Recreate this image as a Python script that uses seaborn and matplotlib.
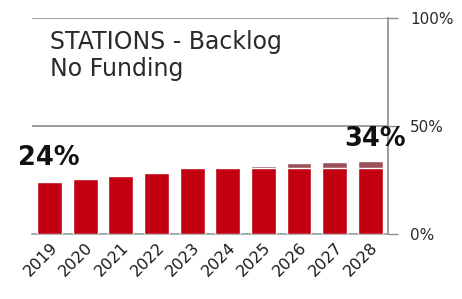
import numpy as np
import pandas as pd
import matplotlib
matplotlib.use("Agg")
import matplotlib.pyplot as plt
import seaborn as sns

# values (percent of stations in backlog)
years = ["2019", "2020", "2021", "2022", "2023", "2024", "2025", "2026", "2027", "2028"]
backlog_total = [24.0, 25.5, 26.7, 28.5, 30.4, 30.4, 31.5, 32.7, 33.5, 34.0]
backlog_base = [24.0, 25.5, 26.7, 28.5, 30.4, 30.4, 30.4, 30.6, 30.8, 30.8]
y_ticks = [0, 50, 100]
y_tick_labels = ["0%", "50%", "100%"]
first_label = "24%"
last_label = "34%"

RED = "#c20012"
TOP = "#9c5058"
GRID = "#8c8c8c"

sns.set_style("white")
plt.rcParams["font.family"] = ["DejaVu Sans"]

df = pd.DataFrame({"year": years, "total": backlog_total, "base": backlog_base})

fig = plt.figure(figsize=(4.62, 2.99), dpi=100)
ax = fig.add_axes([0.069, 0.217, 0.771, 0.723])

sns.barplot(data=df, x="year", y="total", color=TOP, width=0.7, saturation=1,
            ax=ax, zorder=3)
sns.barplot(data=df, x="year", y="base", color=RED, width=0.7, saturation=1,
            ax=ax, zorder=4)

ax.set_ylim(0, 100)
ax.set_xlim(-0.5, len(years) - 0.5)
ax.set_xlabel("")
ax.set_ylabel("")

# y axis on the right
ax.yaxis.tick_right()
ax.set_yticks(y_ticks)
ax.set_yticklabels(y_tick_labels, fontsize=11, color="#2a2a2a")
ax.tick_params(axis="y", which="major", direction="out", length=7, width=1,
               color=GRID, pad=9)
ax.yaxis.grid(True, color=GRID, linewidth=1.2)
ax.set_axisbelow(True)

# x ticks: labels at bar centres, small marks at the boundaries
ax.set_xticks(range(len(years)))
ax.set_xticklabels(years, rotation=45, ha="right", rotation_mode="anchor",
                   fontsize=11.5, color="#1a1a1a")
ax.tick_params(axis="x", which="major", length=0, pad=4)
ax.set_xticks(np.arange(-0.5, len(years)), minor=True)
ax.tick_params(axis="x", which="minor", direction="out", length=5, width=1,
               color="#a8b0b0")

for side in ["top", "left"]:
    ax.spines[side].set_visible(False)
ax.spines["right"].set_color(GRID)
ax.spines["bottom"].set_color("#9aa8a4")
ax.spines["right"].set_linewidth(1.2)
ax.spines["bottom"].set_linewidth(1.2)

ax.text(0.05, 0.945, "STATIONS - Backlog\nNo Funding", transform=ax.transAxes,
        fontsize=17, color="#2a2a2a", va="top", ha="left", linespacing=1.15)

ax.annotate(first_label, xy=(0, backlog_total[0]), xytext=(-23, 8),
            textcoords="offset points", fontsize=18.5, fontweight="bold",
            ha="left", va="bottom", color="#111111")
ax.annotate(last_label, xy=(len(years) - 1, backlog_total[-1]), xytext=(-19, 6),
            textcoords="offset points", fontsize=18.5, fontweight="bold",
            ha="left", va="bottom", color="#111111")

fig.savefig("out.png", dpi=100)
